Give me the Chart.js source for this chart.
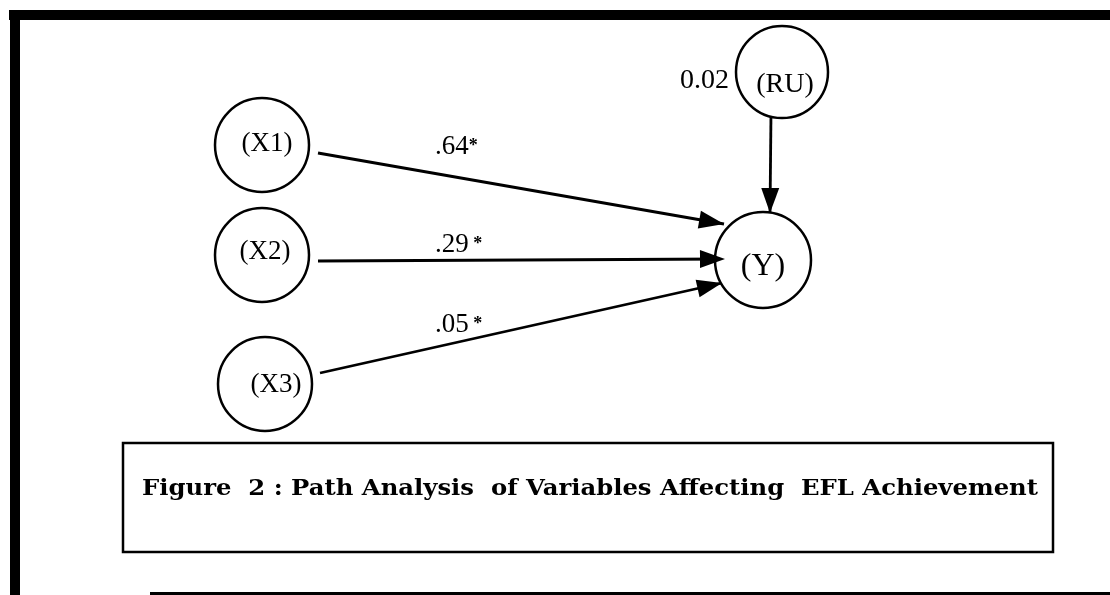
<!DOCTYPE html>
<html>
<head>
<meta charset="utf-8">
<script src="https://cdn.jsdelivr.net/npm/chart.js@4/dist/chart.umd.min.js"></script>
<style>
  html, body { margin: 0; padding: 0; background: #fff; }
  #wrap { width: 1110px; height: 595px; }
</style>
</head>
<body>
<div id="wrap"><canvas id="pathChart" width="1110" height="595"></canvas></div>
<script>
// diagram nodes (centre in diagram units, radius)
const nodeNames = ['(X1)', '(X2)', '(X3)', '(RU)', '(Y)'];
const nodeX = [262, 262, 265, 782, 763];
const nodeY = [145, 255, 384, 72, 260];
const nodeR = [47, 47, 47, 46, 48];

// paths: start and arrow tip
const pathFromX = [318, 318, 320, 771];
const pathFromY = [153, 261, 373, 113];
const pathToX = [724, 725, 722, 770];
const pathToY = [224, 259, 283, 213];

// path coefficients
const coefValues = ['.64', '.29', '.05'];
const coefStars = ['*', ' *', ' *'];
const residualValue = '0.02';

const captionText = 'Figure  2 : Path Analysis  of Variables Affecting  EFL Achievement';

document.addEventListener('DOMContentLoaded', function() {
    const ctx = document.getElementById('pathChart');

    const lineSets = pathFromX.map(function(fx, i) {
        return {
            type: 'line',
            data: [{ x: fx, y: pathFromY[i] }, { x: pathToX[i], y: pathToY[i] }],
            borderColor: '#000',
            borderWidth: 2.8,
            pointRadius: 0,
            fill: false,
            order: 2
        };
    });

    const diagramPlugin = {
        id: 'diagram',
        beforeDraw: function(chart) {
            const c = chart.ctx;
            c.save();
            c.fillStyle = '#fff';
            c.fillRect(0, 0, chart.width, chart.height);
            c.restore();
        },
        afterDatasetsDraw: function(chart) {
            const c = chart.ctx;
            const sx = chart.scales.x, sy = chart.scales.y;
            const px = function(v) { return sx.getPixelForValue(v); };
            const py = function(v) { return sy.getPixelForValue(v); };
            c.save();

            // arrow heads
            c.fillStyle = '#000';
            for (let i = 0; i < pathToX.length; i++) {
                const x1 = px(pathFromX[i]), y1 = py(pathFromY[i]);
                const x2 = px(pathToX[i]), y2 = py(pathToY[i]);
                const a = Math.atan2(y2 - y1, x2 - x1);
                const len = 25, half = 9;
                c.beginPath();
                c.moveTo(x2, y2);
                c.lineTo(x2 - len * Math.cos(a) + half * Math.sin(a), y2 - len * Math.sin(a) - half * Math.cos(a));
                c.lineTo(x2 - len * Math.cos(a) - half * Math.sin(a), y2 - len * Math.sin(a) + half * Math.cos(a));
                c.closePath();
                c.fill();
            }

            // node labels
            c.fillStyle = '#000';
            c.textBaseline = 'alphabetic';
            c.textAlign = 'center';
            const labelDx = [5, 3, 11, 3, 0];
            const labelDy = [6, 4, 8, 20, 15];
            const labelSize = [27, 27, 27, 28, 32];
            nodeNames.forEach(function(n, i) {
                c.font = labelSize[i] + 'px "Liberation Serif", serif';
                c.fillText(n, px(nodeX[i] + labelDx[i]), py(nodeY[i] + labelDy[i]));
            });

            // coefficients
            c.textAlign = 'left';
            const coefY = [154, 252, 332];
            for (let i = 0; i < coefValues.length; i++) {
                const x0 = px(435), y0 = py(coefY[i]);
                c.font = '27px "Liberation Serif", serif';
                c.fillText(coefValues[i], x0, y0);
                const w = c.measureText(coefValues[i]).width;
                c.font = 'bold 18px "Liberation Serif", serif';
                c.fillText(coefStars[i], x0 + w, y0 - 3);
            }
            c.font = '28px "Liberation Serif", serif';
            c.textAlign = 'right';
            c.fillText(residualValue, px(729), py(88));

            // caption box
            c.strokeStyle = '#000';
            c.lineWidth = 2.5;
            c.strokeRect(px(123), py(443), px(1053) - px(123), py(552) - py(443));
            c.textAlign = 'left';
            c.font = 'bold 23px "DejaVu Serif", serif';
            const capW = c.measureText(captionText).width;
            c.save();
            c.translate(px(142), py(495));
            c.scale((px(1038) - px(142)) / capW, 1);
            c.fillText(captionText, 0, 0);
            c.restore();

            // outer frame
            c.fillStyle = '#000';
            c.fillRect(9, 10, chart.width - 9, 10);
            c.fillRect(10, 10, 10, chart.height - 10);
            c.fillRect(150, 592, chart.width - 150, 3);
            c.restore();
        }
    };

    new Chart(ctx, {
        type: 'scatter',
        data: {
            datasets: [
                {
                    label: 'nodes',
                    data: nodeX.map(function(x, i) { return { x: x, y: nodeY[i] }; }),
                    pointRadius: nodeR,
                    pointHoverRadius: nodeR,
                    pointStyle: 'circle',
                    pointBackgroundColor: '#fff',
                    pointBorderColor: '#000',
                    pointBorderWidth: 2.5,
                    order: 1
                }
            ].concat(lineSets)
        },
        options: {
            responsive: false,
            animation: false,
            layout: { padding: 0, autoPadding: false },
            scales: {
                x: { type: 'linear', min: 0, max: 1110, display: false },
                y: { type: 'linear', min: 0, max: 595, reverse: true, display: false }
            },
            plugins: {
                legend: { display: false },
                tooltip: { enabled: false }
            },
            events: []
        },
        plugins: [diagramPlugin]
    });
});
</script>
</body>
</html>
